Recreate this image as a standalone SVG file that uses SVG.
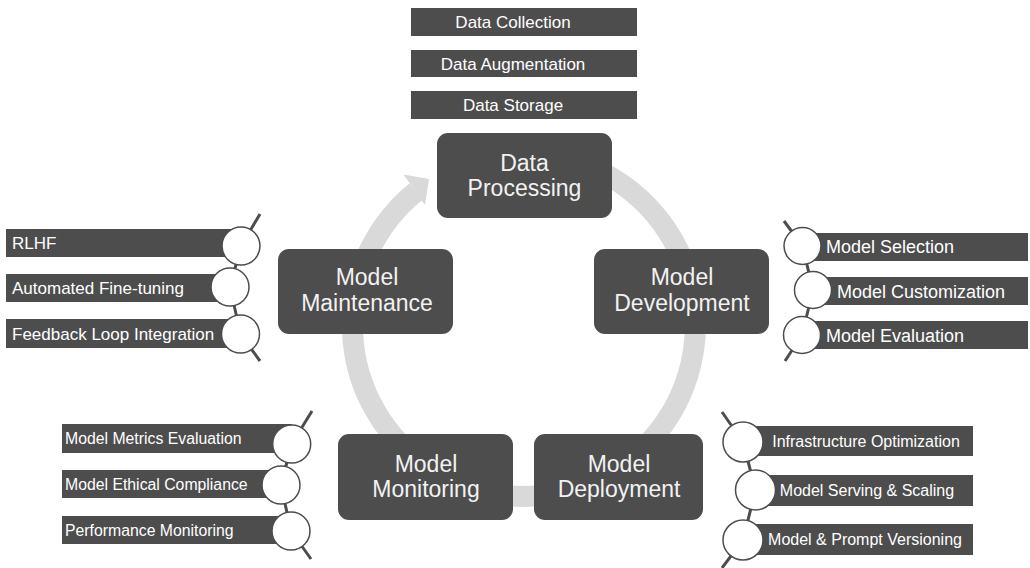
<svg xmlns="http://www.w3.org/2000/svg" width="1030" height="568" viewBox="0 0 1030 568">
<style>
.box{fill:#4d4d4d;}
.bar{fill:#4d4d4d;}
.big{font-family:"Liberation Sans",Arial,sans-serif;font-size:23px;fill:#f2f2f2;text-anchor:middle;}
.t{font-family:"Liberation Sans",Arial,sans-serif;fill:#ffffff;}
.chain{fill:none;stroke:#4d4d4d;stroke-width:3;stroke-linejoin:round;}
.dot{fill:#ffffff;stroke:#4d4d4d;stroke-width:1.5;}
</style>
<rect width="1030" height="568" fill="#ffffff"/>
<g id="connectors">
<path d="M 524 153.5 A 171.5 171.5 0 1 1 416 191.7" fill="none" stroke="#d9d9d9" stroke-width="21"/>
<polygon points="403.5,174.5 429,179 425,205" fill="#d9d9d9"/>
</g>
<g id="data-processing">
<rect class="box" x="437" y="133" width="175" height="85" rx="11"/>
<text class="big" x="524.5" y="171">Data</text>
<text class="big" x="524.5" y="196">Processing</text>
</g>
<g id="model-maintenance">
<rect class="box" x="278" y="249" width="175" height="85" rx="11"/>
<text class="big" x="367" y="285">Model</text>
<text class="big" x="367" y="311">Maintenance</text>
</g>
<g id="model-development">
<rect class="box" x="594" y="249" width="175" height="85" rx="11"/>
<text class="big" x="682" y="285">Model</text>
<text class="big" x="682" y="311">Development</text>
</g>
<g id="model-monitoring">
<rect class="box" x="338" y="434" width="175" height="86" rx="11"/>
<text class="big" x="426" y="472">Model</text>
<text class="big" x="426" y="497">Monitoring</text>
</g>
<g id="model-deployment">
<rect class="box" x="534" y="434" width="169" height="86" rx="11"/>
<text class="big" x="619" y="472">Model</text>
<text class="big" x="619" y="497">Deployment</text>
</g>
<g id="data-items">
<rect class="bar" x="411" y="8" width="226" height="28"/>
<rect class="bar" x="411" y="50" width="226" height="27"/>
<rect class="bar" x="411" y="91" width="226" height="28"/>
<text class="t" font-size="17" text-anchor="middle" x="513" y="28">Data Collection</text>
<text class="t" font-size="17" text-anchor="middle" x="513" y="69.5">Data Augmentation</text>
<text class="t" font-size="17" text-anchor="middle" x="513" y="111">Data Storage</text>
</g>
<g id="maintenance-items">
<rect class="bar" x="6" y="229" width="234" height="28"/>
<rect class="bar" x="6" y="274" width="224" height="28"/>
<rect class="bar" x="6" y="319" width="234" height="29"/>
<polyline class="chain" points="260,214 241,246 230,287 240.5,334 260,361"/>
<circle class="dot" cx="241" cy="246" r="19"/>
<circle class="dot" cx="230" cy="287" r="19"/>
<circle class="dot" cx="240.5" cy="334" r="19"/>
<text class="t" font-size="17" x="12" y="249">RLHF</text>
<text class="t" font-size="17" x="12" y="294">Automated Fine-tuning</text>
<text class="t" font-size="17" x="12" y="339.5">Feedback Loop Integration</text>
</g>
<g id="development-items">
<rect class="bar" x="802" y="233" width="226" height="28"/>
<rect class="bar" x="813" y="277" width="215" height="28"/>
<rect class="bar" x="802" y="321" width="226" height="28"/>
<polyline class="chain" points="784,221 802.5,246 813,290 802,335 785,361"/>
<circle class="dot" cx="802.5" cy="246" r="18.5"/>
<circle class="dot" cx="813" cy="290" r="18.5"/>
<circle class="dot" cx="802" cy="335" r="18.5"/>
<text class="t" font-size="18" x="826" y="253">Model Selection</text>
<text class="t" font-size="18" x="837" y="297.5">Model Customization</text>
<text class="t" font-size="18" x="826" y="341.5">Model Evaluation</text>
</g>
<g id="monitoring-items">
<rect class="bar" x="62" y="424" width="230" height="29"/>
<rect class="bar" x="62" y="470" width="219" height="28"/>
<rect class="bar" x="62" y="516" width="229" height="28"/>
<polyline class="chain" points="312,411 291.7,444 281,485 291,531 311,559"/>
<circle class="dot" cx="291.7" cy="444" r="19"/>
<circle class="dot" cx="281" cy="485" r="19"/>
<circle class="dot" cx="291" cy="531" r="19"/>
<text class="t" font-size="15.8" x="65" y="444">Model Metrics Evaluation</text>
<text class="t" font-size="15.8" x="65" y="489.5">Model Ethical Compliance</text>
<text class="t" font-size="15.8" x="65" y="535.5">Performance Monitoring</text>
</g>
<g id="deployment-items">
<rect class="bar" x="743" y="426" width="230" height="30"/>
<rect class="bar" x="755" y="475" width="218" height="31"/>
<rect class="bar" x="743" y="524" width="230" height="31"/>
<polyline class="chain" points="722,412 743,442 755.5,490 743,540 722,568"/>
<circle class="dot" cx="743" cy="442" r="20"/>
<circle class="dot" cx="755.5" cy="490" r="20"/>
<circle class="dot" cx="743" cy="540" r="20"/>
<text class="t" font-size="16" text-anchor="middle" x="866" y="446.5">Infrastructure Optimization</text>
<text class="t" font-size="16" text-anchor="middle" x="867" y="496">Model Serving &amp; Scaling</text>
<text class="t" font-size="16" text-anchor="middle" x="865" y="545">Model &amp; Prompt Versioning</text>
</g>
</svg>
